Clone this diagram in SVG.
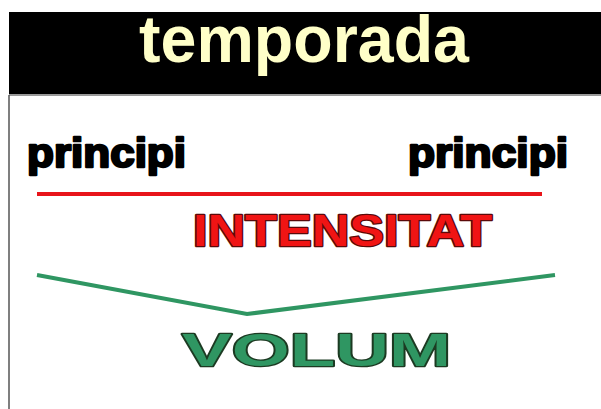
<svg xmlns="http://www.w3.org/2000/svg" width="601" height="409" viewBox="0 0 601 409">
<style>
.t{font-family:"Liberation Sans",Arial,sans-serif;font-weight:bold}
.title{fill:#FFFFC8;font-size:66px}
.pr{fill:#000;stroke:#000;stroke-width:2.4px;stroke-linejoin:round;font-size:40px}
.int{fill:#F01414;stroke:#5A0A0A;stroke-width:2.6px;paint-order:stroke;stroke-linejoin:round;font-size:44px}
.vol{fill:#2F9662;stroke:#1C3A22;stroke-width:2.6px;paint-order:stroke;stroke-linejoin:round;font-size:47px}
</style>
<rect x="0" y="0" width="601" height="409" fill="#fff"/>
<g id="header">
<rect x="9" y="12" width="592" height="82" fill="#000"/>
<line x1="9" y1="95" x2="601" y2="95" stroke="#777" stroke-width="1.5"/>
<line x1="9" y1="95" x2="9" y2="409" stroke="#555" stroke-width="1.5"/>
<text class="t title" x="304" y="62" text-anchor="middle" textLength="330" lengthAdjust="spacingAndGlyphs">temporada</text>
</g>
<g id="principi-left"><text class="t pr" x="27" y="167" textLength="159" lengthAdjust="spacingAndGlyphs">principi</text></g>
<g id="principi-right"><text class="t pr" x="408" y="167" textLength="160" lengthAdjust="spacingAndGlyphs">principi</text></g>
<g id="intensitat"><text class="t int" x="193" y="246" textLength="299" lengthAdjust="spacingAndGlyphs">INTENSITAT</text></g>
<g id="volum"><text class="t vol" x="182" y="366" textLength="269" lengthAdjust="spacingAndGlyphs">VOLUM</text></g>
<g id="connectors" fill="none" stroke-linecap="butt">
<line x1="37" y1="194" x2="542" y2="194" stroke="#E8141A" stroke-width="4"/>
<polyline points="37,275 247,314 555,275" stroke="#2F9662" stroke-width="4"/>
</g>
</svg>
